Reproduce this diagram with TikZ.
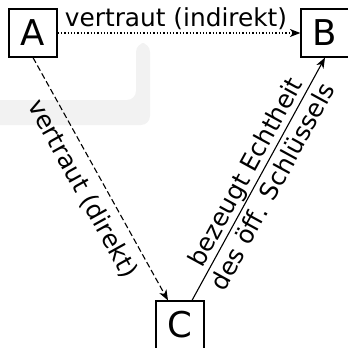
\documentclass[tikz,border=0pt]{standalone}
\usepackage{fontspec}
\setmainfont{DejaVu Sans}
\usetikzlibrary{arrows.meta}
\begin{document}
\begin{tikzpicture}[x=1pt,y=-1pt,
  box/.style={draw, line width=1.2pt, minimum size=48pt, inner sep=0pt, font=\fontsize{35.5pt}{40pt}\selectfont},
  lbl/.style={font=\fontsize{24.8pt}{31pt}\selectfont},
  arr/.style={line width=1.1pt, -{Stealth[length=10.5pt,width=8pt,inset=3pt]}},
  wmark/.style={black!5, rounded corners=9pt}]
\useasboundingbox (0,0) rectangle (348,348);
\fill[wmark] (-10,100) -- (136,100) -- (136,43) -- (150,43) -- (150,125) -- (-10,125) -- cycle;
\node[box] (A) at (33,33) {A};
\node[box] (B) at (325,33) {B};
\node[box] (C) at (180,325) {C};
\coordinate (c1) at ([xshift=-12pt]C.north);
\coordinate (c2) at ([xshift=12pt]C.north);
\draw[arr, dash pattern=on 1.3pt off 2pt] (A.east) -- node[lbl, above, inner sep=2.5pt, xshift=-3pt]{vertraut (indirekt)} (B.west);
\draw[arr, dash pattern=on 6pt off 3pt] (A.south) -- node[lbl, sloped, below, inner sep=9pt]{vertraut (direkt)} (c1);
\draw[arr] (c2) -- node[lbl, sloped, align=center]{bezeugt Echtheit\\des öff. Schlüssels} (B.south);
\end{tikzpicture}
\end{document}
